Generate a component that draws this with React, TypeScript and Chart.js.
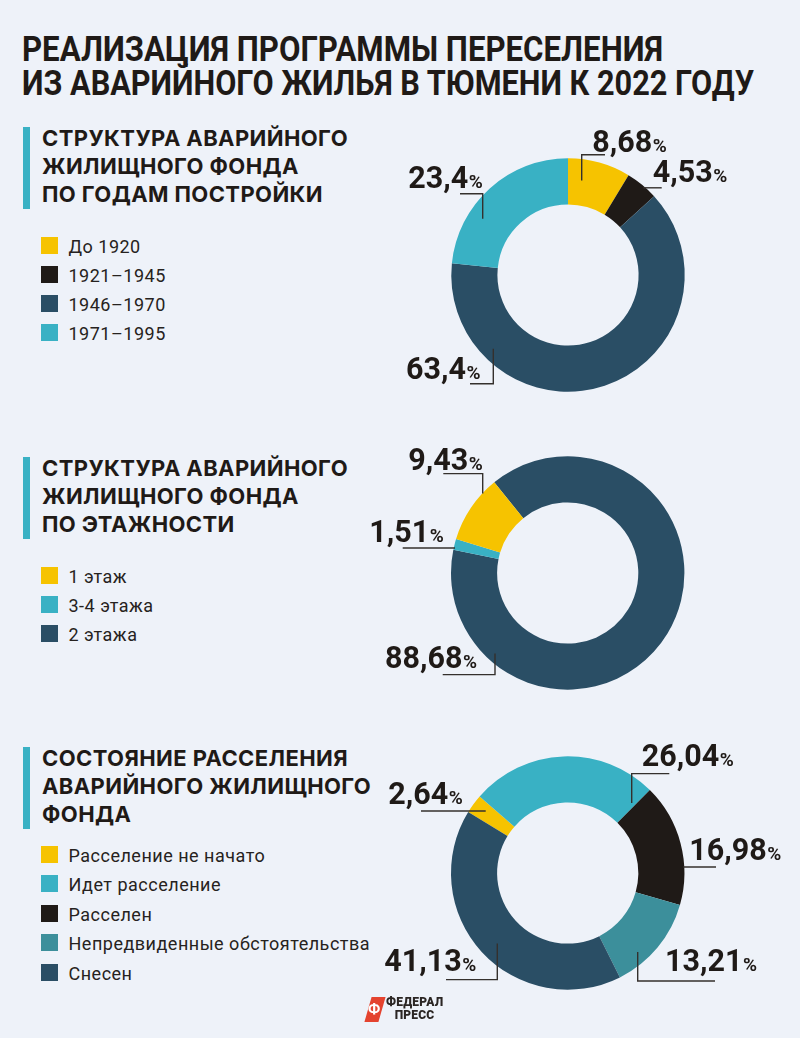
import React, { useEffect, useLayoutEffect, useRef } from "react";
import { Chart, registerables } from "chart.js";

Chart.register(...registerables);

// ---------- palette ----------
const BG = "#eef2f9";
const INK = "#1f1a17";
const YELLOW = "#f6c300";
const BLACK = "#1f1a17";
const NAVY = "#2a4e65";
const TEAL = "#39b1c4";
const SEA = "#3c8f9b";

// ---------- data ----------
const titleLines = [
  "РЕАЛИЗАЦИЯ ПРОГРАММЫ ПЕРЕСЕЛЕНИЯ",
  "ИЗ АВАРИЙНОГО ЖИЛЬЯ В ТЮМЕНИ К 2022 ГОДУ",
];

const yearHeading = ["СТРУКТУРА АВАРИЙНОГО", "ЖИЛИЩНОГО ФОНДА", "ПО ГОДАМ ПОСТРОЙКИ"];
const yearCategories = ["До 1920", "1921–1945", "1946–1970", "1971–1995"];
const yearValues = [8.68, 4.53, 63.4, 23.4];
const yearColors = [YELLOW, BLACK, NAVY, TEAL];

const floorHeading = ["СТРУКТУРА АВАРИЙНОГО", "ЖИЛИЩНОГО ФОНДА", "ПО ЭТАЖНОСТИ"];
const floorCategories = ["1 этаж", "3-4 этажа", "2 этажа"];
const floorValues = [9.43, 1.51, 88.68];
const floorColors = [YELLOW, TEAL, NAVY];

const statusHeading = ["СОСТОЯНИЕ РАССЕЛЕНИЯ", "АВАРИЙНОГО ЖИЛИЩНОГО", "ФОНДА"];
const statusCategories = [
  "Расселение не начато",
  "Идет расселение",
  "Расселен",
  "Непредвиденные обстоятельства",
  "Снесен",
];
const statusValues = [2.64, 26.04, 16.98, 13.21, 41.13];
const statusColors = [YELLOW, TEAL, BLACK, SEA, NAVY];

// ---------- layout (annotation positions relative to the doughnut centre) ----------
type LabelLayout = { tx: number; ty: number; line: number[][] };

const yearLabelLayout: LabelLayout[] = [
  { tx: 24.3, ty: -122.8, line: [[37, -120.2], [13.7, -120.2], [13.7, -94.5]] },
  { tx: 84.7, ty: -92.8, line: [[93.7, -87.2], [75.3, -87.2]] },
  { tx: -162, ty: 103.8, line: [[-98, 108.8], [-74.7, 108.8], [-74.7, 73.8]] },
  { tx: -159.7, ty: -87.2, line: [[-108, -81.2], [-85.3, -81.2], [-85.3, -56.2]] },
];
const floorLabelLayout: LabelLayout[] = [
  { tx: -159.4, ty: -103.4, line: [[-124.4, -99.4], [-85, -99.4], [-85, -79.4]] },
  { tx: -198.4, ty: -31, line: [[-165, -25], [-112.7, -25]] },
  { tx: -182.7, ty: 95, line: [[-125, 101.6], [-72.7, 101.6], [-72.7, 80.6]] },
];
const statusLabelLayout: LabelLayout[] = [
  { tx: -179.4, ty: -68.7, line: [[-146.7, -62], [-82, -62]] },
  { tx: 74, ty: -106.7, line: [[101.6, -99.4], [64, -99.4], [64, -70]] },
  { tx: 121.6, ty: -13.4, line: [[148.3, -6], [115.6, -6]] },
  { tx: 97.3, ty: 98, line: [[147.3, 108], [70, 108], [70, 79]] },
  { tx: -183.4, ty: 98, line: [[-121.7, 106.6], [-70.4, 106.6], [-70.4, 70.6]] },
];

const TITLE_WIDTHS = [641, 732];

const fmt = (v: number) => String(v).replace(".", ",");

// ---------- doughnut ----------
type DonutProps = {
  categories: string[];
  values: number[];
  colors: string[];
  order: number[]; // drawing order (clockwise)
  rotation: number;
  cx: number;
  cy: number;
  layout: LabelLayout[];
};

const R = 116.7;
const CANVAS_LEFT = 340;
const CANVAS_W = 460;
const CANVAS_H = 300;

function Donut({ categories, values, colors, order, rotation, cx, cy, layout }: DonutProps) {
  const ref = useRef<HTMLCanvasElement | null>(null);
  useEffect(() => {
    if (!ref.current) return;
    const plugin = {
      id: "leaderLabels",
      afterDatasetsDraw(chart: any) {
        const meta = chart.getDatasetMeta(0);
        const arc = meta.data[0];
        const x0 = arc.x;
        const y0 = arc.y;
        const ctx = chart.ctx as CanvasRenderingContext2D;
        ctx.save();
        layout.forEach((item, i) => {
          ctx.strokeStyle = "#34302d";
          ctx.lineWidth = 1.4;
          ctx.beginPath();
          item.line.forEach(([px, py], k) => {
            if (k === 0) ctx.moveTo(x0 + px, y0 + py);
            else ctx.lineTo(x0 + px, y0 + py);
          });
          ctx.stroke();
          const text = fmt(values[i]);
          ctx.fillStyle = INK;
          ctx.textAlign = "left";
          ctx.textBaseline = "alphabetic";
          ctx.font = "700 30.5px Roboto";
          ctx.fillText(text, x0 + item.tx, y0 + item.ty);
          const w = ctx.measureText(text).width;
          ctx.font = "700 19px Roboto";
          ctx.fillText("%", x0 + item.tx + w + 0.5, y0 + item.ty);
        });
        ctx.restore();
      },
    };
    const chart = new Chart(ref.current, {
      type: "doughnut",
      data: {
        labels: order.map((i) => categories[i]),
        datasets: [
          {
            data: order.map((i) => values[i]),
            backgroundColor: order.map((i) => colors[i]),
            borderWidth: 0,
          },
        ],
      },
      options: {
        responsive: false,
        animation: false,
        cutout: "60.5%",
        rotation,
        layout: {
          padding: {
            left: cx - R - CANVAS_LEFT,
            right: CANVAS_LEFT + CANVAS_W - cx - R,
            top: CANVAS_H / 2 - R,
            bottom: CANVAS_H / 2 - R,
          },
        },
        plugins: {
          legend: { display: false },
          tooltip: { enabled: false },
        },
      },
      plugins: [plugin],
    });
    return () => chart.destroy();
  }, []);
  return (
    <canvas
      ref={ref}
      width={CANVAS_W}
      height={CANVAS_H}
      style={{
        position: "absolute",
        left: CANVAS_LEFT,
        top: cy - CANVAS_H / 2,
        width: CANVAS_W,
        height: CANVAS_H,
      }}
    />
  );
}

// ---------- text blocks ----------
function Title() {
  const refs = useRef<(HTMLSpanElement | null)[]>([]);
  useLayoutEffect(() => {
    refs.current.forEach((el, i) => {
      if (!el) return;
      const w = el.getBoundingClientRect().width;
      if (w > 0) el.style.transform = `scaleX(${TITLE_WIDTHS[i] / w})`;
    });
  }, []);
  return (
    <div
      style={{
        position: "absolute",
        left: 22,
        top: 33,
        fontFamily: "Roboto",
        fontWeight: 700,
        fontSize: 35,
        lineHeight: "34px",
        color: INK,
        whiteSpace: "nowrap",
      }}
    >
      {titleLines.map((l, i) => (
        <div key={i}>
          <span
            ref={(el) => {
              refs.current[i] = el;
            }}
            style={{ display: "inline-block", transformOrigin: "0 50%" }}
          >
            {l}
          </span>
        </div>
      ))}
    </div>
  );
}

function Heading({ lines, top }: { lines: string[]; top: number }) {
  return (
    <>
      <div
        style={{
          position: "absolute",
          left: 23,
          top: top + 2.5,
          width: 6.5,
          height: lines.length * 28 - 2,
          background: TEAL,
        }}
      />
      <div
        style={{
          position: "absolute",
          left: 42,
          top,
          fontFamily: "Inter",
          fontWeight: 700,
          fontSize: 22,
          letterSpacing: 0.4,
          lineHeight: "28px",
          color: INK,
          whiteSpace: "nowrap",
        }}
      >
        {lines.map((l, i) => (
          <div key={i}>{l}</div>
        ))}
      </div>
    </>
  );
}

function Legend({
  categories,
  colors,
  firstCenter,
  step,
}: {
  categories: string[];
  colors: string[];
  firstCenter: number;
  step: number;
}) {
  return (
    <>
      {categories.map((c, i) => {
        const y = firstCenter + i * step;
        return (
          <div key={c} style={{ position: "absolute", left: 41, top: y - 8.5, height: 17 }}>
            <div
              style={{
                position: "absolute",
                left: 0,
                top: 0,
                width: 17,
                height: 17,
                background: colors[i],
              }}
            />
            <div
              style={{
                position: "absolute",
                left: 27.5,
                top: 1,
                fontFamily: "Roboto",
                fontSize: 18,
                letterSpacing: 0.5,
                lineHeight: "17px",
                color: "#262220",
                whiteSpace: "nowrap",
              }}
            >
              {c}
            </div>
          </div>
        );
      })}
    </>
  );
}

function Logo() {
  return (
    <>
      <div
        style={{
          position: "absolute",
          left: 368,
          top: 997,
          width: 14,
          height: 25,
          background: "#e4432f",
          transform: "skewX(-16deg)",
        }}
      />
      <div
        style={{
          position: "absolute",
          left: 364,
          top: 1000,
          width: 20,
          textAlign: "center",
          fontFamily: "Roboto",
          fontWeight: 700,
          fontSize: 15,
          lineHeight: "18px",
          color: "#ffffff",
        }}
      >
        Ф
      </div>
      <div
        style={{
          position: "absolute",
          left: 386,
          top: 996,
          width: 57,
          textAlign: "center",
          fontFamily: "Roboto",
          fontWeight: 900,
          fontSize: 12,
          lineHeight: "13px",
          color: "#2b2624",
          letterSpacing: 0.2,
        }}
      >
        <div>ФЕДЕРАЛ</div>
        <div>ПРЕСС</div>
      </div>
    </>
  );
}

export default function App() {
  return (
    <div
      style={{
        position: "absolute",
        left: 0,
        top: 0,
        width: 800,
        height: 1038,
        background: BG,
        overflow: "hidden",
      }}
    >
      <Title />

      <Heading lines={yearHeading} top={124.2} />
      <Legend categories={yearCategories} colors={yearColors} firstCenter={245.5} step={29} />
      <Donut
        categories={yearCategories}
        values={yearValues}
        colors={yearColors}
        order={[0, 1, 2, 3]}
        rotation={0}
        cx={568}
        cy={274.5}
        layout={yearLabelLayout}
      />

      <Heading lines={floorHeading} top={454.2} />
      <Legend categories={floorCategories} colors={floorColors} firstCenter={575} step={29} />
      <Donut
        categories={floorCategories}
        values={floorValues}
        colors={floorColors}
        order={[2, 1, 0]}
        rotation={-39}
        cx={567.7}
        cy={572.7}
        layout={floorLabelLayout}
      />

      <Heading lines={statusHeading} top={744.2} />
      <Legend categories={statusCategories} colors={statusColors} firstCenter={854} step={29.5} />
      <Donut
        categories={statusCategories}
        values={statusValues}
        colors={statusColors}
        order={[0, 1, 2, 3, 4]}
        rotation={-58.5}
        cx={567.7}
        cy={872.7}
        layout={statusLabelLayout}
      />

      <Logo />
    </div>
  );
}
